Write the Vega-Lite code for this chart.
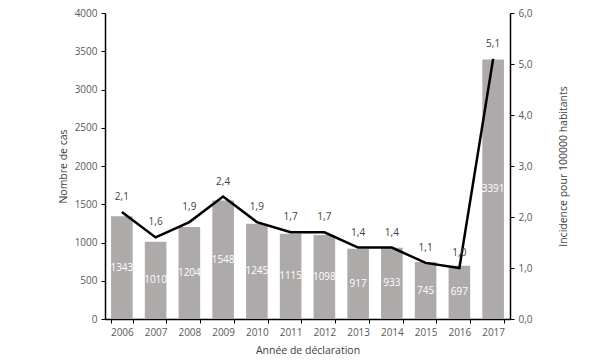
{
  "$schema": "https://vega.github.io/schema/vega-lite/v6.json",
  "autosize": "none",
  "width": 405,
  "height": 306,
  "padding": {"left": 105, "top": 13, "right": 90, "bottom": 43},
  "background": "white",
  "data": {"values": [
    {"annee": "2006", "cas": 1343, "incidence": 2.1},
    {"annee": "2007", "cas": 1010, "incidence": 1.6},
    {"annee": "2008", "cas": 1204, "incidence": 1.9},
    {"annee": "2009", "cas": 1548, "incidence": 2.4},
    {"annee": "2010", "cas": 1245, "incidence": 1.9},
    {"annee": "2011", "cas": 1115, "incidence": 1.7},
    {"annee": "2012", "cas": 1098, "incidence": 1.7},
    {"annee": "2013", "cas": 917, "incidence": 1.4},
    {"annee": "2014", "cas": 933, "incidence": 1.4},
    {"annee": "2015", "cas": 745, "incidence": 1.1},
    {"annee": "2016", "cas": 697, "incidence": 1.0},
    {"annee": "2017", "cas": 3391, "incidence": 5.1}
  ]},
  "encoding": {
    "x": {"field": "annee", "type": "ordinal", "scale": {"paddingInner": 0.36, "paddingOuter": 0.18},
      "axis": {"title": "Année de déclaration", "labelAngle": 0, "tickBand": "extent", "titlePadding": 8}}
  },
  "layer": [
    {"mark": {"type": "bar", "color": "#aeaaaa"},
     "encoding": {"y": {"field": "cas", "type": "quantitative", "scale": {"domain": [0, 4000]},
       "axis": {"title": "Nombre de cas", "orient": "left", "values": [0,500,1000,1500,2000,2500,3000,3500,4000], "titlePadding": 6}}}},
    {"mark": {"type": "text", "color": "white", "fontSize": 10, "baseline": "middle"},
     "encoding": {"y": {"field": "cas", "type": "quantitative", "scale": {"domain": [0, 8000]}, "axis": null},
       "text": {"field": "cas", "type": "quantitative", "format": "d"}}},
    {"mark": {"type": "line", "color": "black", "strokeWidth": 2.5},
     "encoding": {"y": {"field": "incidence", "type": "quantitative", "scale": {"domain": [0, 6]},
       "axis": {"title": "Incidence pour 100000 habitants", "orient": "right", "format": ".1f", "values": [0,1,2,3,4,5,6], "titleAngle": -90, "titleBaseline": "top", "titlePadding": 26}}}},
    {"mark": {"type": "text", "color": "#404040", "fontSize": 10, "dy": -15},
     "encoding": {"y": {"field": "incidence", "type": "quantitative", "scale": {"domain": [0, 6]}, "axis": null},
       "text": {"field": "incidence", "type": "quantitative", "format": ".1f"}}}
  ],
  "resolve": {"scale": {"y": "independent"}},
  "config": {
    "locale": {"number": {"decimal": ",", "thousands": "", "grouping": [3], "currency": ["", " €"]}},
    "font": "Open Sans",
    "view": {"stroke": null},
    "axis": {
      "grid": false,
      "domainColor": "black",
      "domainWidth": 1.5,
      "tickColor": "black",
      "tickSize": 4,
      "labelColor": "#595959",
      "labelFont": "Open Sans",
      "labelFontSize": 10,
      "titleColor": "#404040",
      "titleFont": "Open Sans",
      "titleFontSize": 10.5,
      "titleFontWeight": "normal",
      "labelPadding": 4
    }
  }
}
